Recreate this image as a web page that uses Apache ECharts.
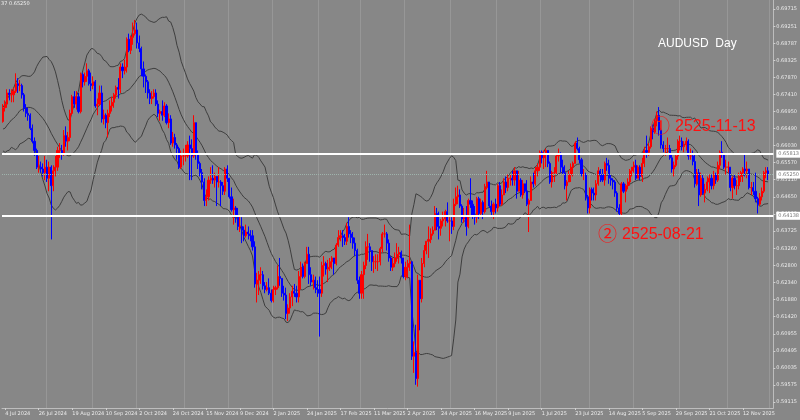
<!DOCTYPE html>
<html><head><meta charset="utf-8">
<script src="https://cdn.jsdelivr.net/npm/echarts@6/dist/echarts.min.js"></script>
<style>html,body{margin:0;padding:0;background:#878787}#c{width:800px;height:420px}</style>
</head><body><div id="c"></div>
<script>
// ---- data (AUDUSD daily, 3 Jul 2024 .. 28 Nov 2025) ----
const firstOpen = 0.6668;
const closes = [
0.6705,0.6715,0.6745,0.6740,0.6740,0.6750,0.6770,0.6765,0.6765,0.6740,0.6705,0.6690,0.6685,0.6650,0.6615,0.6590,0.6545,0.6545,0.6540,0.6530,0.6545,
0.6515,0.6545,0.6495,0.6535,0.6545,0.6590,0.6590,0.6580,0.6630,0.6615,0.6625,0.6690,0.6735,0.6715,0.6735,0.6695,0.6795,0.6775,0.6790,0.6805,0.6770,0.6765,
0.6775,0.6710,0.6715,0.6745,0.6675,0.6685,0.6665,0.6690,0.6710,0.6720,0.6740,0.6760,0.6755,0.6815,0.6805,0.6815,0.6890,0.6860,0.6895,0.6905,0.6915,
0.6880,0.6865,0.6810,0.6790,0.6775,0.6745,0.6730,0.6735,0.6745,0.6715,0.6690,0.6695,0.6685,0.6710,0.6665,0.6675,0.6610,0.6625,0.6605,0.6595,0.6545,0.6575,0.6575,
0.6575,0.6605,0.6595,0.6575,0.6665,0.6580,0.6555,0.6530,0.6505,0.6455,0.6465,0.6510,0.6515,0.6510,0.6520,0.6505,0.6505,0.6495,0.6480,0.6540,0.6515,
0.6465,0.6430,0.6435,0.6415,0.6385,0.6385,0.6375,0.6360,0.6370,0.6365,0.6360,0.6330,0.6230,0.6240,0.6255,0.6255,0.6225,0.6215,0.6220,0.6205,0.6185,
0.6215,0.6220,0.6250,0.6245,0.6205,0.6200,0.6150,0.6165,0.6195,0.6210,0.6205,0.6195,0.6250,0.6275,0.6250,0.6285,0.6310,0.6255,0.6235,0.6240,0.6220,0.6215,
0.6205,0.6280,0.6285,0.6270,0.6275,0.6290,0.6300,0.6285,0.6335,0.6355,0.6360,0.6355,0.6345,0.6385,0.6365,0.6355,0.6340,0.6320,0.6240,0.6205,
0.6255,0.6280,0.6330,0.6330,0.6320,0.6290,0.6290,0.6290,0.6290,0.6325,0.6365,0.6365,0.6340,0.6300,0.6275,0.6285,0.6300,0.6310,0.6315,0.6300,0.6250,
0.6275,0.6285,0.6290,0.6035,0.6045,0.5975,0.6240,0.6190,0.6285,0.6320,0.6345,0.6350,0.6365,0.6375,0.6420,0.6385,0.6380,0.6400,0.6405,0.6425,0.6400,0.6400,
0.6385,0.6445,0.6465,0.6470,0.6440,0.6405,0.6410,0.6385,0.6455,0.6445,0.6415,0.6410,0.6460,0.6420,0.6450,0.6425,0.6490,0.6505,0.6440,0.6425,0.6445,0.6435,
0.6495,0.6445,0.6470,0.6505,0.6490,0.6515,0.6515,0.6510,0.6535,0.6480,0.6510,0.6470,0.6500,0.6480,0.6445,0.6455,0.6505,0.6500,0.6535,0.6545,0.6585,
0.6570,0.6580,0.6590,0.6555,0.6505,0.6530,0.6530,0.6575,0.6580,0.6545,0.6530,0.6495,0.6505,0.6525,0.6545,0.6555,0.6610,0.6595,0.6565,0.6525,0.6525,0.6465,0.6435,
0.6485,0.6475,0.6470,0.6500,0.6535,0.6525,0.6510,0.6555,0.6550,0.6515,0.6510,0.6505,0.6475,0.6435,0.6420,0.6500,0.6480,0.6495,0.6505,0.6535,0.6545,
0.6550,0.6515,0.6545,0.6520,0.6555,0.6590,0.6585,0.6600,0.6650,0.6640,0.6670,0.6685,0.6645,0.6605,0.6595,0.6595,0.6595,0.6570,0.6540,0.6550,0.6575,0.6615,
0.6615,0.6600,0.6605,0.6615,0.6575,0.6575,0.6560,0.6500,0.6530,0.6470,0.6515,0.6475,0.6485,0.6505,0.6515,0.6495,0.6525,0.6510,0.6550,0.6585,0.6580,0.6545,0.6545,
0.6545,0.6490,0.6515,0.6495,0.6495,0.6520,0.6530,0.6540,0.6535,0.6540,0.6490,0.6490,0.6480,0.6460,0.6445,0.6465,0.6480,0.6530,0.6535,0.6525
];
const highs = [
0.6715,0.6725,0.6755,0.6755,0.6755,0.6760,0.6798,0.6785,0.6780,0.6770,0.6745,0.6715,0.6705,0.6690,0.6660,0.6625,0.6595,0.6575,0.6560,0.6555,0.6575,
0.6565,0.6560,0.6550,0.6550,0.6575,0.6600,0.6610,0.6605,0.6645,0.6655,0.6640,0.6700,0.6740,0.6750,0.6750,0.6745,0.6800,0.6800,0.6800,0.6825,0.6810,0.6800,
0.6790,0.6780,0.6730,0.6765,0.6765,0.6700,0.6690,0.6700,0.6725,0.6735,0.6745,0.6765,0.6785,0.6825,0.6825,0.6835,0.6895,0.6905,0.6900,0.6935,0.6942,
0.6935,0.6900,0.6870,0.6830,0.6795,0.6780,0.6755,0.6750,0.6755,0.6755,0.6725,0.6700,0.6725,0.6720,0.6715,0.6690,0.6685,0.6640,0.6635,0.6610,0.6600,0.6590,0.6595,
0.6605,0.6615,0.6630,0.6620,0.6685,0.6665,0.6590,0.6560,0.6540,0.6515,0.6485,0.6520,0.6545,0.6550,0.6530,0.6520,0.6545,0.6510,0.6505,0.6545,0.6550,
0.6515,0.6490,0.6460,0.6440,0.6435,0.6415,0.6410,0.6385,0.6390,0.6385,0.6375,0.6375,0.6345,0.6260,0.6265,0.6275,0.6265,0.6235,0.6235,0.6245,0.6215,
0.6225,0.6225,0.6280,0.6300,0.6245,0.6225,0.6220,0.6175,0.6205,0.6225,0.6230,0.6225,0.6265,0.6290,0.6285,0.6290,0.6330,0.6330,0.6275,0.6255,0.6250,0.6240,
0.6250,0.6290,0.6305,0.6290,0.6295,0.6300,0.6305,0.6300,0.6340,0.6375,0.6375,0.6375,0.6365,0.6395,0.6410,0.6375,0.6370,0.6355,0.6325,0.6250,
0.6265,0.6290,0.6345,0.6365,0.6340,0.6320,0.6305,0.6310,0.6310,0.6330,0.6370,0.6390,0.6370,0.6350,0.6305,0.6300,0.6315,0.6340,0.6330,0.6320,0.6295,
0.6290,0.6295,0.6390,0.6290,0.6075,0.6120,0.6255,0.6240,0.6300,0.6335,0.6345,0.6385,0.6380,0.6385,0.6440,0.6435,0.6425,0.6405,0.6425,0.6430,0.6450,0.6410,
0.6410,0.6460,0.6490,0.6495,0.6485,0.6445,0.6435,0.6440,0.6460,0.6515,0.6455,0.6440,0.6465,0.6465,0.6460,0.6455,0.6500,0.6535,0.6505,0.6455,0.6450,0.6460,
0.6500,0.6505,0.6485,0.6515,0.6520,0.6525,0.6525,0.6535,0.6545,0.6535,0.6535,0.6515,0.6510,0.6500,0.6510,0.6460,0.6520,0.6530,0.6545,0.6555,0.6590,
0.6590,0.6590,0.6595,0.6590,0.6560,0.6535,0.6545,0.6580,0.6595,0.6585,0.6565,0.6550,0.6510,0.6535,0.6555,0.6560,0.6615,0.6625,0.6600,0.6570,0.6540,0.6530,0.6470,
0.6490,0.6490,0.6490,0.6510,0.6545,0.6540,0.6540,0.6560,0.6570,0.6565,0.6525,0.6515,0.6510,0.6480,0.6445,0.6505,0.6505,0.6500,0.6515,0.6540,0.6545,
0.6560,0.6565,0.6550,0.6550,0.6570,0.6600,0.6630,0.6610,0.6655,0.6660,0.6675,0.6695,0.6707,0.6650,0.6615,0.6605,0.6625,0.6605,0.6580,0.6560,0.6580,0.6620,
0.6630,0.6625,0.6615,0.6625,0.6620,0.6595,0.6590,0.6580,0.6540,0.6540,0.6530,0.6525,0.6500,0.6520,0.6525,0.6525,0.6535,0.6530,0.6560,0.6590,0.6615,0.6580,0.6565,
0.6560,0.6545,0.6520,0.6525,0.6510,0.6530,0.6535,0.6545,0.6580,0.6560,0.6540,0.6505,0.6505,0.6530,0.6465,0.6475,0.6490,0.6535,0.6545,0.6545
];
const lows = [
0.6665,0.6695,0.6705,0.6725,0.6720,0.6720,0.6745,0.6745,0.6750,0.6730,0.6695,0.6680,0.6670,0.6645,0.6610,0.6575,0.6540,0.6530,0.6530,0.6520,0.6510,
0.6505,0.6480,0.6350,0.6480,0.6520,0.6535,0.6570,0.6565,0.6575,0.6600,0.6590,0.6615,0.6685,0.6705,0.6700,0.6690,0.6690,0.6760,0.6765,0.6775,0.6765,0.6750,
0.6755,0.6705,0.6685,0.6710,0.6665,0.6660,0.6650,0.6625,0.6680,0.6695,0.6705,0.6730,0.6730,0.6745,0.6785,0.6795,0.6800,0.6855,0.6850,0.6875,0.6900,
0.6865,0.6855,0.6790,0.6760,0.6745,0.6730,0.6715,0.6715,0.6730,0.6710,0.6680,0.6670,0.6670,0.6680,0.6660,0.6650,0.6605,0.6600,0.6595,0.6565,0.6540,0.6540,0.6550,
0.6560,0.6570,0.6510,0.6510,0.6570,0.6565,0.6540,0.6520,0.6485,0.6440,0.6440,0.6455,0.6500,0.6500,0.6490,0.6440,0.6490,0.6440,0.6470,0.6470,0.6505,
0.6460,0.6425,0.6390,0.6395,0.6375,0.6370,0.6340,0.6345,0.6355,0.6350,0.6345,0.6320,0.6220,0.6180,0.6200,0.6230,0.6215,0.6205,0.6210,0.6200,0.6180,
0.6180,0.6200,0.6215,0.6225,0.6195,0.6185,0.6135,0.6130,0.6150,0.6170,0.6195,0.6180,0.6180,0.6215,0.6245,0.6245,0.6285,0.6230,0.6225,0.6215,0.6205,0.6195,
0.6088,0.6195,0.6250,0.6255,0.6235,0.6265,0.6270,0.6255,0.6280,0.6330,0.6345,0.6330,0.6335,0.6335,0.6355,0.6340,0.6325,0.6305,0.6230,0.6190,
0.6190,0.6190,0.6270,0.6295,0.6290,0.6265,0.6260,0.6270,0.6265,0.6280,0.6315,0.6355,0.6320,0.6290,0.6265,0.6265,0.6275,0.6290,0.6285,0.6285,0.6245,
0.6240,0.6245,0.6265,0.6025,0.5990,0.5958,0.5953,0.6105,0.6180,0.6275,0.6310,0.6300,0.6340,0.6360,0.6380,0.6375,0.6350,0.6360,0.6385,0.6385,0.6395,0.6345,
0.6365,0.6375,0.6440,0.6445,0.6435,0.6395,0.6395,0.6360,0.6380,0.6435,0.6405,0.6390,0.6395,0.6405,0.6415,0.6405,0.6420,0.6485,0.6435,0.6410,0.6405,0.6420,
0.6425,0.6440,0.6440,0.6470,0.6475,0.6480,0.6495,0.6495,0.6495,0.6460,0.6480,0.6465,0.6460,0.6475,0.6440,0.6370,0.6455,0.6490,0.6495,0.6520,0.6535,
0.6555,0.6540,0.6545,0.6545,0.6500,0.6490,0.6505,0.6525,0.6560,0.6530,0.6525,0.6485,0.6455,0.6505,0.6505,0.6520,0.6555,0.6590,0.6555,0.6520,0.6510,0.6455,0.6420,
0.6420,0.6455,0.6455,0.6455,0.6495,0.6505,0.6505,0.6495,0.6535,0.6500,0.6495,0.6485,0.6465,0.6425,0.6415,0.6415,0.6475,0.6450,0.6485,0.6495,0.6520,
0.6530,0.6510,0.6515,0.6510,0.6505,0.6545,0.6570,0.6575,0.6595,0.6620,0.6635,0.6655,0.6630,0.6595,0.6585,0.6575,0.6580,0.6565,0.6530,0.6520,0.6545,0.6565,
0.6590,0.6590,0.6585,0.6590,0.6565,0.6565,0.6550,0.6490,0.6495,0.6440,0.6465,0.6470,0.6450,0.6480,0.6475,0.6485,0.6485,0.6500,0.6505,0.6540,0.6570,0.6540,0.6525,
0.6530,0.6480,0.6460,0.6485,0.6470,0.6485,0.6505,0.6505,0.6520,0.6515,0.6485,0.6470,0.6470,0.6450,0.6420,0.6440,0.6455,0.6475,0.6515,0.6510
];
// closes before the first shown bar, only used for the Bollinger window
const preCloses = [0.6650,0.6665,0.6580,0.6610,0.6595,0.6665,0.6660,0.6615,0.6610,0.6670,0.6665,0.6655,0.6650,0.6655,0.6655,0.6650,0.6650,0.6670,0.6665,0.6665];
const yTickLabels = [0.69715,0.69251,0.68787,0.68325,0.67870,0.67410,0.66950,0.66490,0.66030,0.65570,0.65110,0.64650,0.64190,0.63725,0.63260,0.62800,0.62340,0.61880,0.61420,0.60955,0.60495,0.60035,0.59575,0.59115];
const hLines = [0.65813, 0.64138];
const bidPrice = 0.65250;
const titleText = 'AUDUSD  Day';
const cornerText = '37 0.65250';
const notes = [{mark:'\u2460', text:'2525-11-13'}, {mark:'\u2461', text:'2525-08-21'}];

// ---- build ----
const MON = ['Jan','Feb','Mar','Apr','May','Jun','Jul','Aug','Sep','Oct','Nov','Dec'];
const dates = [];
{
  const d = new Date(Date.UTC(2024, 6, 3));
  while (dates.length < closes.length + 2) {
    const wd = d.getUTCDay(), m = d.getUTCMonth(), day = d.getUTCDate();
    const hol = (m === 11 && day === 25) || (m === 0 && day === 1);
    if (wd !== 0 && wd !== 6 && !hol) dates.push(new Date(d.getTime()));
    d.setUTCDate(day + 1);
  }
}
const cats = dates.map(d => d.getUTCDate() + ' ' + MON[d.getUTCMonth()] + ' ' + d.getUTCFullYear());
const monthStart = dates.map((d, i) => i > 0 && d.getUTCMonth() !== dates[i - 1].getUTCMonth());

const opens = [firstOpen].concat(closes.slice(0, -1));
const candles = closes.map((c, i) => {
  const o = opens[i];
  return [o, c, Math.min(lows[i], o, c), Math.max(highs[i], o, c)];
});

const all = preCloses.concat(closes), P = preCloses.length;
const bbMid = [], bbUp = [], bbLo = [];
for (let i = 0; i < closes.length; i++) {
  const w = all.slice(P + i - 19, P + i + 1);
  const m = w.reduce((a, b) => a + b, 0) / w.length;
  const sd = Math.sqrt(w.reduce((a, b) => a + (b - m) * (b - m), 0) / w.length);
  bbMid.push(m); bbUp.push(m + 2 * sd); bbLo.push(m - 2 * sd);
}

const lblFont = {fontSize: 5, color: '#ececec', fontFamily: 'DejaVu Sans'};
const bandStyle = {color: '#3e3e3e', width: 1};
const chart = echarts.init(document.getElementById('c'), null, {renderer: 'canvas'});
const boxLabel = (bg, fg) => ({show: true, position: 'end', distance: 3, formatter: p => Number(p.value).toFixed(5),
  backgroundColor: bg, color: fg, fontSize: 5, fontFamily: 'DejaVu Sans', padding: [2, 2, 1, 2]});

chart.setOption({
  animation: false,
  backgroundColor: '#878787',
  grid: {left: 2, right: 25, top: 0, bottom: 12},
  xAxis: {
    type: 'category', data: cats, boundaryGap: true,
    axisLine: {show: true, lineStyle: {color: '#bdbdbd', width: 1}},
    axisTick: {show: true, alignWithLabel: true, length: 2, interval: i => i % 16 === 1, lineStyle: {color: '#d0d0d0'}},
    axisLabel: Object.assign({interval: i => i % 16 === 1, align: 'left', margin: 3}, lblFont),
    splitLine: {show: true, interval: i => monthStart[i], lineStyle: {color: '#979797', width: 1}}
  },
  yAxis: {
    type: 'value', position: 'right', min: 0.58954, max: 0.699577, scale: true,
    axisLine: {show: true, lineStyle: {color: '#bdbdbd', width: 1}},
    axisTick: {show: true, length: 2, customValues: yTickLabels, lineStyle: {color: '#d0d0d0'}},
    axisLabel: Object.assign({customValues: yTickLabels, margin: 3, formatter: v => v.toFixed(5)}, lblFont),
    splitLine: {show: false}
  },
  series: [
    {type: 'line', data: bbUp, symbol: 'none', lineStyle: bandStyle, silent: true, z: 2},
    {type: 'line', data: bbMid, symbol: 'none', lineStyle: bandStyle, silent: true, z: 2},
    {type: 'line', data: bbLo, symbol: 'none', lineStyle: bandStyle, silent: true, z: 2},
    {
      type: 'candlestick', data: candles, barWidth: 1.6, z: 3,
      itemStyle: {color: '#ff0000', color0: '#0000ff', borderColor: '#ff0000', borderColor0: '#0000ff', borderWidth: 1},
      markLine: {
        symbol: 'none', silent: true, animation: false, precision: 5,
        data: [
          {yAxis: hLines[0], lineStyle: {color: '#ffffff', width: 2, type: 'solid'}, label: boxLabel('#ffffff', '#777777')},
          {yAxis: hLines[1], lineStyle: {color: '#ffffff', width: 2, type: 'solid'}, label: boxLabel('#ffffff', '#777777')},
          {yAxis: bidPrice, lineStyle: {color: '#9fb3ac', width: 1, type: 'dotted'}, label: boxLabel('#ffffff', '#777777')}
        ]
      }
    }
  ],
  graphic: [
    {type: 'text', left: 1, top: 1, style: {text: cornerText, fill: '#f0f0f0', font: '5px DejaVu Sans'}, z: 10},
    {type: 'text', x: 658, y: 38, style: {text: titleText, fill: '#ffffff', font: '12px Liberation Sans'}, z: 10},
    {type: 'text', x: 651, y: 116, style: {text: notes[0].mark, fill: '#ff1010', font: '19px "Noto Sans CJK JP"'}, z: 10},
    {type: 'text', x: 675, y: 118, scaleX: 0.94, style: {text: notes[0].text, fill: '#ff1010', font: '17px Liberation Sans'}, z: 10},
    {type: 'text', x: 598, y: 224, style: {text: notes[1].mark, fill: '#ff1010', font: '19px "Noto Sans CJK JP"'}, z: 10},
    {type: 'text', x: 622, y: 226, scaleX: 0.94, style: {text: notes[1].text, fill: '#ff1010', font: '17px Liberation Sans'}, z: 10}
  ]
});
</script></body></html>
